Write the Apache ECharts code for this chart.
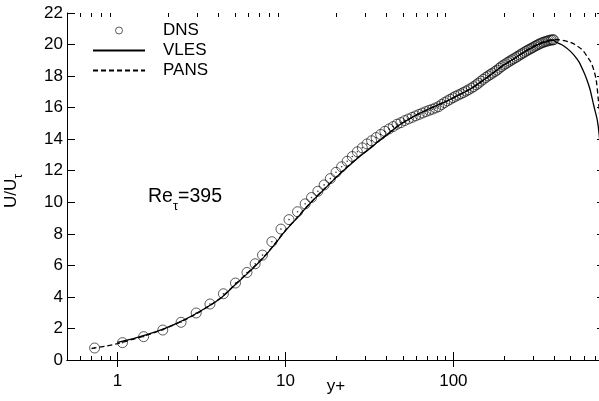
<!DOCTYPE html>
<html><head><meta charset="utf-8">
<script src="https://cdn.jsdelivr.net/npm/echarts@6/dist/echarts.min.js"></script>
<style>html,body{margin:0;padding:0;background:#fff}#c{width:599px;height:401px}</style>
</head><body><div id="c"></div>
<script>
// ---- axis ticks / labels ----
const xMajorTicks = [1, 10, 100];
const xTickLabels = ['1', '10', '100'];
const xMinorTicks = [0.6,0.7,0.8,0.9,2,3,4,5,6,7,8,9,20,30,40,50,60,70,80,90,200,300,400,500,600,700];

// ---- DNS (circles) ----
const dnsYp = [0.73,1.07,1.43,1.86,2.39,2.94,3.55,4.27,5.04,5.9,6.6,7.3,8.3,9.4,10.5,11.8,13.1,14.3,15.6,17.0,18.5,20.0,21.6,23.3,25.0,26.8,28.7,30.6,32.6,34.7,36.9,39.1,41.4,43.8,46.2,48.7,51.3,54.0,56.8,59.6,62.5,65.5,68.6,71.8,75.0,78.3,81.7,85.1,88.6,92.2,95.8,99.5,103,107,111,115,119,123,128,132,137,141,146,151,156,161,166,171,177,182,188,193,199,205,211,217,223,229,236,242,249,255,262,269,276,283,290,297,305,312,320,327,335,343,351,359,367,375,383,391,395];
const dnsU  = [0.76,1.10,1.48,1.90,2.39,2.98,3.55,4.20,4.88,5.55,6.10,6.65,7.50,8.30,8.90,9.40,9.90,10.30,10.70,11.10,11.50,11.90,12.25,12.60,12.90,13.20,13.45,13.70,13.90,14.10,14.30,14.50,14.65,14.80,14.95,15.05,15.18,15.28,15.38,15.48,15.57,15.66,15.75,15.83,15.90,15.98,16.06,16.20,16.32,16.43,16.53,16.63,16.72,16.80,16.88,16.96,17.05,17.13,17.24,17.33,17.45,17.55,17.68,17.80,17.91,18.01,18.10,18.19,18.29,18.38,18.50,18.60,18.70,18.78,18.87,18.95,19.03,19.10,19.18,19.26,19.34,19.41,19.48,19.56,19.63,19.69,19.75,19.81,19.88,19.94,20.00,20.05,20.10,20.14,20.18,20.21,20.24,20.27,20.29,20.30,20.30];

// ---- VLES (solid) ----
const vlesYp = [1.0,1.3,1.7,2.2,2.8,3.5,4.2,5.0,5.8,6.7,7.7,8.8,10,11.5,13,15,17,19.5,22,25,28,32,36,41,47,54,62,71,82,95,110,127,147,170,196,226,260,300,340,380,395,410,440,470,500,530,560,590,620,650,680,700,720,740,760];
const vlesU  = [1.12,1.42,1.8,2.28,2.82,3.42,4.0,4.75,5.38,6.02,6.7,7.45,8.2,8.9,9.55,10.25,10.82,11.45,11.98,12.5,12.95,13.42,13.88,14.35,14.85,15.25,15.6,15.9,16.2,16.5,16.85,17.2,17.65,18.15,18.65,19.05,19.48,19.85,20.1,20.25,20.27,20.15,20.0,19.8,19.55,19.25,18.9,18.4,17.85,17.2,16.3,15.75,15.2,14.2,12.5];

// ---- PANS (dashed) ----
const pansYp = [0.7,0.85,1.0,1.3,1.7,2.2,2.8,3.5,4.2,5.0,5.8,6.7,7.7,8.8,10,11.5,13,15,17,19.5,22,25,28,32,36,41,47,54,62,71,82,95,110,127,147,170,196,226,260,300,340,380,395,430,490,530,586,630,663,690,709,730,750,770];
const pansU  = [0.73,0.88,1.04,1.38,1.78,2.26,2.8,3.42,4.02,4.78,5.42,6.05,6.72,7.47,8.22,8.92,9.57,10.27,10.85,11.47,12.0,12.52,12.97,13.44,13.9,14.37,14.86,15.25,15.6,15.9,16.2,16.5,16.85,17.2,17.65,18.15,18.65,19.05,19.5,19.9,20.15,20.3,20.32,20.3,20.16,20.0,19.66,19.2,18.83,18.3,17.76,16.5,15.0,12.5];

const FONT = '"Liberation Sans", Arial, sans-serif';
const zip = (xs, ys) => xs.map((x, i) => [x, ys[i]]);

const chart = echarts.init(document.getElementById('c'), null, {renderer: 'canvas'});
const gridBox = {left: 67, top: 13, width: 538, height: 347, outerBoundsMode: 'none', containLabel: false};
const xBase = {type: 'log', logBase: 10, min: 0.5, max: 800, splitLine: {show: false}, minorTick: {show: false}, minorSplitLine: {show: false}};

chart.setOption({
  animation: false,
  backgroundColor: '#fff',
  textStyle: {fontFamily: FONT},
  grid: [Object.assign({}, gridBox), Object.assign({}, gridBox)],
  xAxis: [
    Object.assign({}, xBase, {
      gridIndex: 0, position: 'bottom',
      axisLine: {show: true, lineStyle: {color: '#000', width: 1}},
      axisTick: {show: true, inside: true, length: 8, customValues: xMajorTicks, lineStyle: {color: '#000'}},
      axisLabel: {show: true, customValues: xMajorTicks, color: '#000', fontSize: 17, fontFamily: FONT, margin: 13,
        formatter: v => { const i = xMajorTicks.findIndex(t => Math.abs(t - v) < 1e-6 * t); return i >= 0 ? xTickLabels[i] : ''; }},
      name: 'y+', nameLocation: 'middle', nameGap: 18, nameMoveOverlap: false,
      nameTextStyle: {color: '#000', fontSize: 17, fontFamily: FONT}
    }),
    Object.assign({}, xBase, {
      gridIndex: 0, position: 'top',
      axisLine: {show: true, lineStyle: {color: '#000', width: 1}},
      axisTick: {show: true, inside: true, length: 7, customValues: xMajorTicks, lineStyle: {color: '#000'}},
      axisLabel: {show: false}
    }),
    Object.assign({}, xBase, {
      gridIndex: 1, position: 'bottom',
      axisLine: {show: false},
      axisTick: {show: true, inside: true, length: 4, customValues: xMinorTicks, lineStyle: {color: '#000'}},
      axisLabel: {show: false}
    }),
    Object.assign({}, xBase, {
      gridIndex: 1, position: 'top',
      axisLine: {show: false},
      axisTick: {show: true, inside: true, length: 4, customValues: xMinorTicks, lineStyle: {color: '#000'}},
      axisLabel: {show: false}
    })
  ],
  yAxis: [
    {gridIndex: 0, type: 'value', position: 'left', min: 0, max: 22, interval: 2,
      axisLine: {show: true, lineStyle: {color: '#000', width: 1}},
      axisTick: {show: true, inside: true, length: 8, lineStyle: {color: '#000'}},
      axisLabel: {color: '#000', fontSize: 17, fontFamily: FONT, margin: 4},
      splitLine: {show: false}},
    {gridIndex: 0, type: 'value', position: 'right', min: 0, max: 22, interval: 2,
      axisLine: {show: true, lineStyle: {color: '#000', width: 1}},
      axisTick: {show: true, inside: true, length: 8, lineStyle: {color: '#000'}},
      axisLabel: {show: false}, splitLine: {show: false}},
    {gridIndex: 1, type: 'value', min: 0, max: 22, show: false}
  ],
  legend: {
    orient: 'vertical', left: 92, top: 22, padding: 0, itemWidth: 52, itemHeight: 7, itemGap: 3,
    selectedMode: false,
    data: [
      {name: 'DNS', itemStyle: {borderWidth: 0.8}},
      {name: 'VLES', itemStyle: {opacity: 0}},
      {name: 'PANS', itemStyle: {opacity: 0}}
    ],
    textStyle: {color: '#000', fontSize: 17, fontFamily: FONT, padding: [0, 0, 0, 13]}
  },
  series: [
    {name: 'DNS', type: 'scatter', xAxisIndex: 0, yAxisIndex: 0, data: zip(dnsYp, dnsU),
      symbol: 'circle', symbolSize: 10,
      itemStyle: {color: 'rgba(0,0,0,0)', borderColor: '#000', borderWidth: 0.8}, z: 2},
    {name: 'DNSdot', type: 'scatter', xAxisIndex: 0, yAxisIndex: 0, data: zip(dnsYp, dnsU),
      symbol: 'circle', symbolSize: 1.6, itemStyle: {color: '#000'}, silent: true, z: 2},
    {name: 'VLES', type: 'line', xAxisIndex: 0, yAxisIndex: 0, data: zip(vlesYp, vlesU),
      symbol: 'none', smooth: 0.3, lineStyle: {color: '#000', width: 1.3}, itemStyle: {color: '#000'}, z: 3},
    {name: 'PANS', type: 'line', xAxisIndex: 0, yAxisIndex: 0, data: zip(pansYp, pansU),
      symbol: 'none', smooth: 0.3, lineStyle: {color: '#000', width: 1.3, type: [5, 3]}, itemStyle: {color: '#000'}, z: 3}
  ],
  graphic: [
    {type: 'text', left: 148, top: 187, z: 10,
      style: {text: '{a|Re}{s|τ}{a|=395}', fill: '#000', font: '19px ' + FONT,
        rich: {a: {fontSize: 19.5, fontFamily: FONT, fill: '#000', verticalAlign: 'bottom', padding: [0, 0, 6, 0]},
               s: {fontSize: 13, fontFamily: FONT, fill: '#000', verticalAlign: 'bottom'}}}},
    {type: 'text', x: 14, y: 191, rotation: Math.PI / 2, z: 10,
      style: {text: '{a|U/U}{s|τ}', align: 'center', verticalAlign: 'middle', fill: '#000',
        rich: {a: {fontSize: 17, fontFamily: FONT, fill: '#000', verticalAlign: 'bottom', padding: [0, 0, 5, 0]},
               s: {fontSize: 12, fontFamily: FONT, fill: '#000', verticalAlign: 'bottom'}}}}
  ]
});
</script>
</body></html>
